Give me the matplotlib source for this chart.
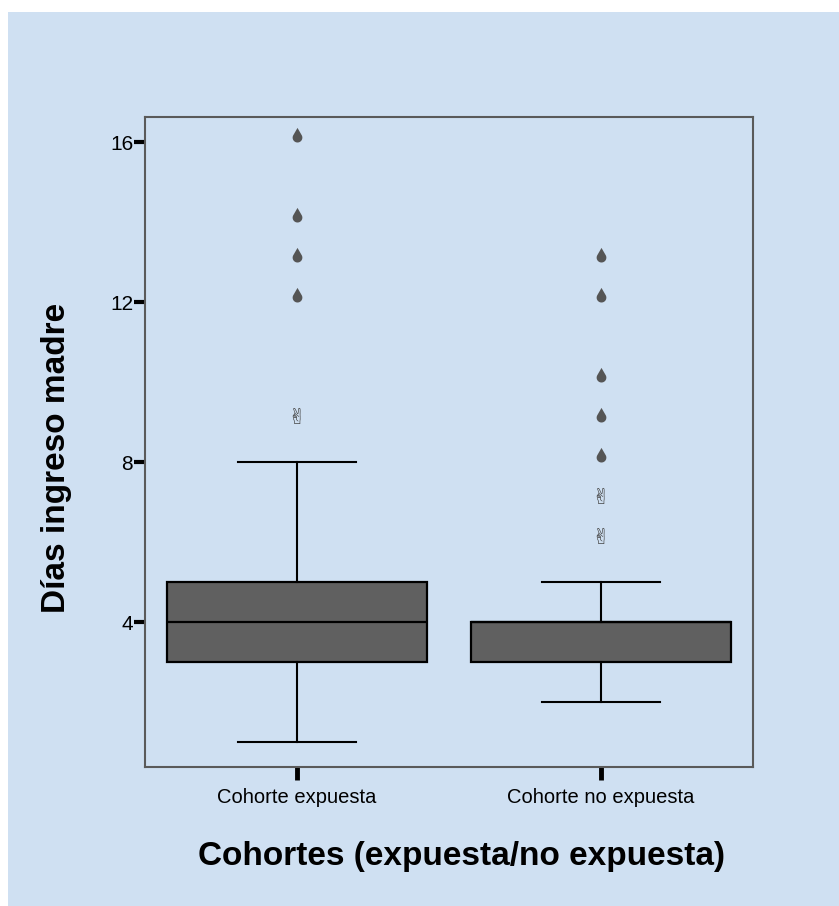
import matplotlib.pyplot as plt
from matplotlib.path import Path
from matplotlib.patches import Rectangle
import numpy as np

# Box summaries per cohort
cohorts = ["Cohorte expuesta", "Cohorte no expuesta"]
whisker_low = [1, 2]
q1 = [3, 3]
median = [4, 4]
q3 = [5, 4]
whisker_high = [8, 5]

# Atypical values (drops) and extreme values (hands)
outliers = [[12, 13, 14, 16], [8, 9, 10, 12, 13]]
extremes = [[9], [6, 7]]

bg = "#cfe0f2"
box_fill = "#606060"
mark_col = "#555555"

fig = plt.figure(figsize=(8.39, 9.06), dpi=100)
fig.patch.set_facecolor("white")
fig.patches.append(Rectangle((8 / 839, 0), 1, 1 - 12 / 906, transform=fig.transFigure,
                             facecolor=bg, edgecolor="none", zorder=-10))

ax = fig.add_axes([145 / 839, 1 - 767 / 906, 608 / 839, 650 / 906])
ax.set_facecolor("none")

stats = []
for i in range(len(cohorts)):
    stats.append(dict(label=cohorts[i], whislo=whisker_low[i], q1=q1[i], med=median[i],
                      q3=q3[i], whishi=whisker_high[i], fliers=[]))

ax.bxp(stats, positions=[1, 2], widths=0.855, capwidths=0.39, patch_artist=True,
       showfliers=False,
       boxprops=dict(facecolor=box_fill, edgecolor="black", linewidth=1.6),
       medianprops=dict(color="black", linewidth=1.6),
       whiskerprops=dict(color="black", linewidth=1.5),
       capprops=dict(color="black", linewidth=1.5))

# teardrop marker: tip up, round base sitting on the value
r, cy, tip_y = 1.0, 1.0, 3.0
a = np.degrees(np.arccos(r / (tip_y - cy)))
theta = np.radians(np.linspace(90 - a, 90 + a - 360, 40))
verts = [(0, tip_y)] + [(r * np.cos(t), cy + r * np.sin(t)) for t in theta] + [(0, tip_y)]
drop = Path(verts, [Path.MOVETO] + [Path.LINETO] * (len(verts) - 2) + [Path.CLOSEPOLY])

for i, vals in enumerate(outliers):
    ax.plot(np.full(len(vals), i + 1), vals, linestyle="none", marker=drop,
            markersize=21, color=mark_col, markeredgewidth=0)

for i, vals in enumerate(extremes):
    for v in vals:
        ax.text(i + 1, v - 0.15, "\u270c", ha="center", va="bottom", fontsize=16,
                color="#444444", family="DejaVu Sans", fontweight="bold")

ax.set_xlim(0.5, 2.5)
ax.set_ylim(0.375, 16.625)
ax.set_yticks([4, 8, 12, 16])
ax.set_xticks([1, 2])
ax.set_xticklabels(cohorts)

for s in ax.spines.values():
    s.set_color("#5a5a5a")
    s.set_linewidth(1.5)

ax.tick_params(axis="y", direction="out", length=8, width=3, color="black",
               labelsize=15, pad=0.5, labelfontfamily="Liberation Sans")
ax.tick_params(axis="x", direction="out", length=9, width=3.5, color="black",
               labelsize=14.5, pad=6, labelfontfamily="Liberation Sans")

ax.set_ylabel("Días ingreso madre", fontsize=24, fontweight="bold",
              family="Liberation Sans", va="center")
ax.yaxis.set_label_coords(-0.145, 0.475)
ax.set_xlabel("Cohortes (expuesta/no expuesta)", fontsize=24, fontweight="bold",
              family="Liberation Sans", va="center")
ax.xaxis.set_label_coords(0.52, -0.137)

fig.savefig("out.png", dpi=100)
